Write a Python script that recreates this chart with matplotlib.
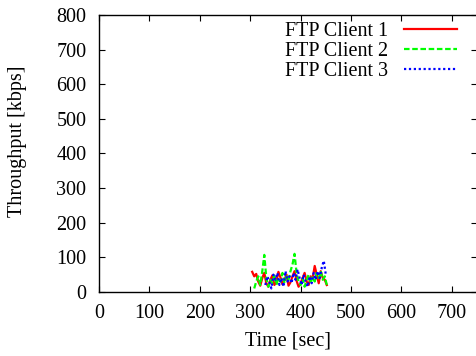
import numpy as np
import matplotlib
matplotlib.use('Agg')
import matplotlib.pyplot as plt

plt.rcParams['font.family'] = ['Liberation Serif', 'DejaVu Serif']
plt.rcParams['font.size'] = 14.5

# throughput samples
t_client1 = np.arange(304, 453, 4)
client1 = [58, 45, 52, 30, 18, 40, 55, 25, 15, 35, 48, 20, 30, 58, 42,
           22, 35, 50, 18, 28, 45, 60, 32, 15, 25, 40, 55, 30, 20, 45,
           40, 75, 50, 25, 60, 40, 35, 20]
t_client2 = np.arange(308, 453, 4)
client2 = [10, 30, 45, 20, 60, 107, 40, 15, 35, 25, 50, 20, 40, 30, 55,
           25, 45, 35, 60, 80, 110, 55, 30, 20, 40, 15, 35, 50, 25, 45,
           30, 55, 40, 60, 35, 45, 20]
t_client3 = np.arange(330, 451, 4)
client3 = [20, 45, 30, 10, 50, 35, 55, 20, 40, 15, 60, 30, 45, 25, 55,
           35, 65, 40, 20, 50, 30, 15, 45, 25, 55, 35, 60, 40, 70, 90, 50]

series_names = ['FTP Client 1', 'FTP Client 2', 'FTP Client 3']
x_ticks = np.arange(0, 800, 100)
y_ticks = np.arange(0, 900, 100)

fig = plt.figure(figsize=(4.77, 3.56), dpi=100)
ax = fig.add_axes([0.2075, 0.180, 0.7925, 0.778])

ax.plot(t_client1, client1, color='#ff0000', linewidth=1.6, linestyle='-', label=series_names[0])
ax.plot(t_client2, client2, color='#00ff00', linewidth=1.6, linestyle=(0, (2.5, 1.2)), label=series_names[1])
ax.plot(t_client3, client3, color='#0000ff', linewidth=1.6, linestyle=(0, (1, 1.2)), label=series_names[2])

ax.set_xlim(0, 750)
ax.set_ylim(0, 800)
ax.set_xticks(x_ticks)
ax.set_yticks(y_ticks)
ax.tick_params(direction='in', length=4, width=0.8, top=True, right=True, pad=9)
for s in ax.spines.values():
    s.set_linewidth(1.0)

ax.set_xlabel('Time [sec]', labelpad=6)
ax.set_ylabel('Throughput [kbps]')
ax.yaxis.set_label_coords(-0.19, 0.545)

ax.legend(loc='upper right', bbox_to_anchor=(0.984, 1.025), frameon=False,
          markerfirst=False, handlelength=2.6, labelspacing=0.05, handletextpad=0.8,
          borderpad=0.2)

plt.savefig('out.png', dpi=100)
plt.close('all')
